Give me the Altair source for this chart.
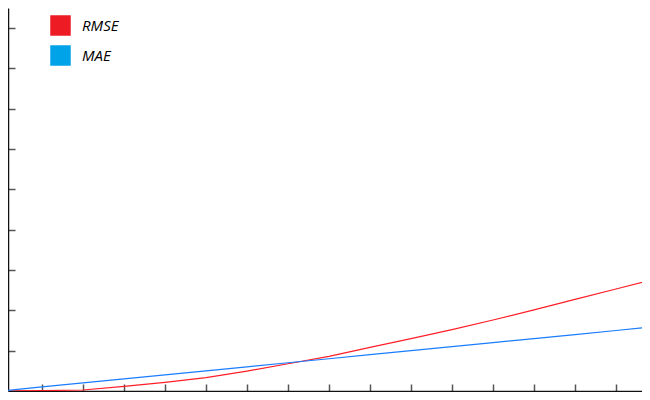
import altair as alt
import pandas as pd

# x positions (axis units) and readings
x_vals = [0, 1, 2, 3, 4, 5, 6, 7, 8, 9, 10, 11, 12, 13, 14, 15, 15.83]
rmse_vals = [0.0, 0.01, 0.025, 0.115, 0.215, 0.33, 0.495, 0.675, 0.86, 1.08, 1.30,
             1.52, 1.76, 2.01, 2.27, 2.53, 2.74]
mae_vals = [0.0, 0.1, 0.2, 0.3, 0.4, 0.5, 0.6, 0.7, 0.8, 0.9, 1.0,
            1.1, 1.2, 1.3, 1.4, 1.5, 1.585]
series = ["RMSE", "MAE"]
line_colors = ["#FF1E26", "#1A7CFF"]
legend_colors = ["#ED1C24", "#00A2E8"]
x_ticks = list(range(1, 16))
y_ticks = list(range(1, 10))

rows = []
for xv, r, m in zip(x_vals, rmse_vals, mae_vals):
    rows.append({"x": xv, "v": r, "s": "RMSE"})
    rows.append({"x": xv, "v": m, "s": "MAE"})
df = pd.DataFrame(rows)

W, H = 634, 383
x_min = 7 / 41
x_max = x_min + W / 41
y_max = 383 / ((391 - 28) / 9)

axis_style = dict(labels=False, title=None, grid=False, tickSize={"expr": "-7"},
                  tickWidth=1.5, tickColor="#555555", domainColor="#111111",
                  domainWidth=1.5)

x_enc = alt.X("x:Q", scale=alt.Scale(domain=[x_min, x_max], nice=False, zero=False),
              axis=alt.Axis(values=x_ticks, **axis_style))
y_enc = alt.Y("v:Q", scale=alt.Scale(domain=[0, y_max], nice=False),
              axis=alt.Axis(values=y_ticks, **axis_style))

lines = alt.Chart(df).mark_line(strokeWidth=1.2, clip=True).encode(
    x=x_enc, y=y_enc,
    color=alt.Color("s:N", scale=alt.Scale(domain=series, range=line_colors), legend=None),
)

legend_layer = alt.Chart(df).transform_filter("datum.x == 1").mark_square(
    size=0, strokeWidth=0, clip=True).encode(
    x=x_enc, y=y_enc,
    color=alt.Color("s:N", scale=alt.Scale(domain=series, range=legend_colors),
                    legend=alt.Legend(
                        title=None, orient="none", legendX=42, legendY=7,
                        symbolType="square", symbolSize=420, symbolStrokeWidth=0,
                        symbolOpacity=1,
                        rowPadding=9, labelOffset=11, labelFont="Open Sans",
                        labelFontSize=15, labelFontStyle="italic", labelColor="#000000",
                        padding=0)),
)

chart = alt.layer(lines, legend_layer).resolve_scale(color="independent").properties(
    width=W, height=H,
    autosize=alt.AutoSizeParams(type="none"),
    padding={"left": 0, "top": 0, "right": 0, "bottom": 1},
).configure(background="white").configure_view(stroke=None)

chart.save("out.html", embed_options={"renderer": "svg", "actions": False})
